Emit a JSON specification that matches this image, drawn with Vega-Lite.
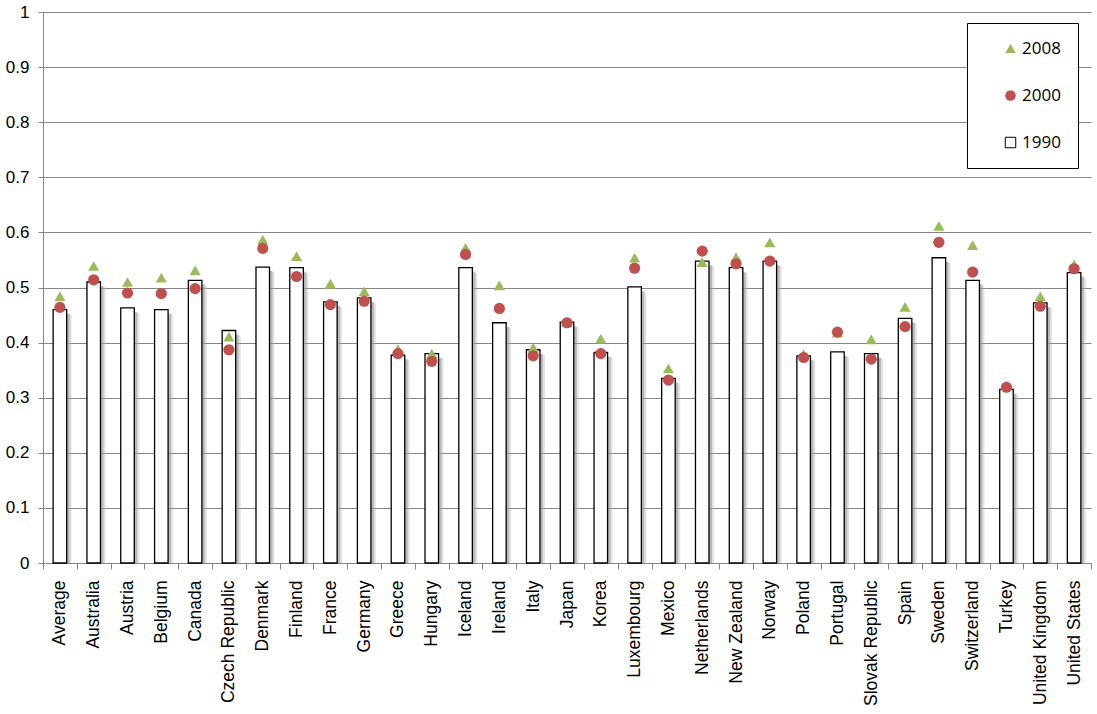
{
  "$schema": "https://vega.github.io/schema/vega-lite/v6.json",
  "width": 1097,
  "height": 714,
  "autosize": {"type": "fit", "contains": "padding"},
  "padding": {"left": 5, "top": 3, "right": 5, "bottom": 8},
  "background": "white",
  "config": {
    "view": {"stroke": null},
    "axis": {
      "labelFont": "Liberation Sans",
      "labelFontSize": 17,
      "labelColor": "#000000",
      "domainColor": "#868686",
      "tickColor": "#868686",
      "title": null
    },
    "legend": {
      "labelFont": "Open Sans",
      "labelFontSize": 17,
      "labelColor": "#000000"
    }
  },
  "data": {
    "values": [
      {"country": "Average", "1990": 0.460, "2000": 0.464, "2008": 0.484},
      {"country": "Australia", "1990": 0.510, "2000": 0.514, "2008": 0.539},
      {"country": "Austria", "1990": 0.463, "2000": 0.490, "2008": 0.510},
      {"country": "Belgium", "1990": 0.460, "2000": 0.489, "2008": 0.518},
      {"country": "Canada", "1990": 0.513, "2000": 0.498, "2008": 0.531},
      {"country": "Czech Republic", "1990": 0.422, "2000": 0.387, "2008": 0.411},
      {"country": "Denmark", "1990": 0.537, "2000": 0.571, "2008": 0.587},
      {"country": "Finland", "1990": 0.536, "2000": 0.520, "2008": 0.557},
      {"country": "France", "1990": 0.474, "2000": 0.469, "2008": 0.507},
      {"country": "Germany", "1990": 0.481, "2000": 0.475, "2008": 0.493},
      {"country": "Greece", "1990": 0.377, "2000": 0.380, "2008": 0.388},
      {"country": "Hungary", "1990": 0.380, "2000": 0.366, "2008": 0.380},
      {"country": "Iceland", "1990": 0.536, "2000": 0.560, "2008": 0.572},
      {"country": "Ireland", "1990": 0.436, "2000": 0.462, "2008": 0.504},
      {"country": "Italy", "1990": 0.387, "2000": 0.376, "2008": 0.391},
      {"country": "Japan", "1990": 0.437, "2000": 0.436, "2008": 0.437},
      {"country": "Korea", "1990": 0.382, "2000": 0.380, "2008": 0.407},
      {"country": "Luxembourg", "1990": 0.501, "2000": 0.535, "2008": 0.554},
      {"country": "Mexico", "1990": 0.335, "2000": 0.332, "2008": 0.353},
      {"country": "Netherlands", "1990": 0.548, "2000": 0.566, "2008": 0.546},
      {"country": "New Zealand", "1990": 0.536, "2000": 0.543, "2008": 0.555},
      {"country": "Norway", "1990": 0.548, "2000": 0.548, "2008": 0.582},
      {"country": "Poland", "1990": 0.376, "2000": 0.373, "2008": 0.379},
      {"country": "Portugal", "1990": 0.383, "2000": 0.419, "2008": 0.418},
      {"country": "Slovak Republic", "1990": 0.380, "2000": 0.370, "2008": 0.406},
      {"country": "Spain", "1990": 0.444, "2000": 0.429, "2008": 0.465},
      {"country": "Sweden", "1990": 0.554, "2000": 0.582, "2008": 0.612},
      {"country": "Switzerland", "1990": 0.513, "2000": 0.528, "2008": 0.577},
      {"country": "Turkey", "1990": 0.315, "2000": 0.319, "2008": 0.322},
      {"country": "United Kingdom", "1990": 0.472, "2000": 0.466, "2008": 0.484},
      {"country": "United States", "1990": 0.527, "2000": 0.534, "2008": 0.542}
    ]
  },
  "encoding": {
    "x": {
      "field": "country",
      "type": "nominal",
      "sort": null,
      "scale": {"paddingInner": 0, "paddingOuter": 0},
      "axis": {
        "labelAngle": -90,
        "labelAlign": "right",
        "labelBaseline": "middle",
        "tickBand": "extent",
        "tickSize": 6,
        "labelPadding": 11,
        "labelFontSize": 17.5,
        "labelLimit": 300
      }
    }
  },
  "layer": [
    {
      "mark": {
        "type": "bar",
        "width": {"band": 0.4},
        "xOffset": 5,
        "yOffset": 5,
        "clip": true,
        "fill": "#b0b0b0",
        "opacity": 0.35
      },
      "encoding": {
        "y": {"field": "1990", "type": "quantitative"}
      }
    },
    {
      "mark": {
        "type": "bar",
        "width": {"band": 0.4},
        "xOffset": 3,
        "yOffset": 4,
        "clip": true,
        "fill": "#909090",
        "opacity": 0.5
      },
      "encoding": {
        "y": {"field": "1990", "type": "quantitative"}
      }
    },
    {
      "mark": {
        "type": "bar",
        "width": {"band": 0.4},
        "fill": "#ffffff",
        "stroke": "#000000",
        "strokeWidth": 1.3
      },
      "encoding": {
        "y": {
          "field": "1990",
          "type": "quantitative",
          "scale": {"domain": [0, 1], "nice": false},
          "axis": {
            "values": [0, 0.1, 0.2, 0.3, 0.4, 0.5, 0.6, 0.7, 0.8, 0.9, 1],
            "format": "~g",
            "grid": true,
            "gridColor": "#868686",
            "gridWidth": 1,
            "gridOpacity": 1,
            "tickSize": 5,
            "labelPadding": 9
          }
        }
      }
    },
    {
      "transform": [
        {"fold": ["2008", "2000"], "as": ["year", "value"]}
      ],
      "mark": {"type": "point", "filled": true, "size": 125, "opacity": 1, "strokeWidth": 1},
      "encoding": {
        "y": {"field": "value", "type": "quantitative"},
        "color": {
          "field": "year",
          "type": "nominal",
          "scale": {
            "domain": ["2008", "2000", "1990"],
            "range": ["#9BBB59", "#C0504D", "#ffffff"]
          },
          "legend": {
            "title": null,
            "orient": "none",
            "legendX": 924,
            "legendY": 11,
            "padding": 17,
            "symbolOffset": 18,
            "labelOffset": 3,
            "rowPadding": 29,
            "symbolSize": 110,
            "symbolStrokeWidth": 1,
            "strokeColor": "#000000",
            "fillColor": "#ffffff",
            "encode": {
              "labels": {
                "update": {"dy": {"value": 5}}
              }
            }
          }
        },
        "stroke": {
          "field": "year",
          "type": "nominal",
          "scale": {
            "domain": ["2008", "2000", "1990"],
            "range": ["transparent", "transparent", "#000000"]
          },
          "legend": {
            "title": null,
            "orient": "none",
            "legendX": 924,
            "legendY": 11
          }
        },
        "shape": {
          "field": "year",
          "type": "nominal",
          "scale": {
            "domain": ["2008", "2000", "1990"],
            "range": ["triangle-up", "circle", "square"]
          },
          "legend": {
            "title": null,
            "orient": "none",
            "legendX": 924,
            "legendY": 11
          }
        }
      }
    }
  ]
}
